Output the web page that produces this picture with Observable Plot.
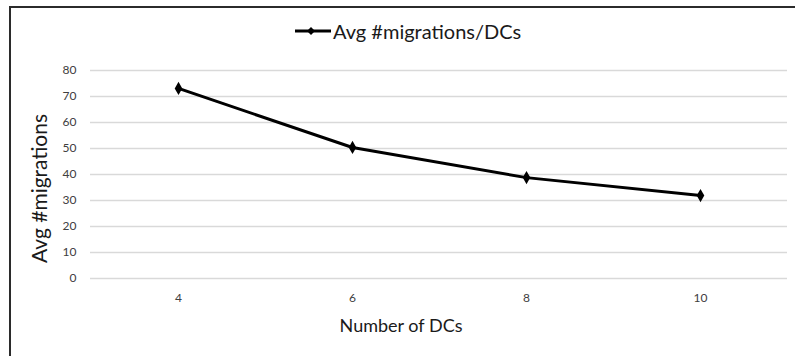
<!DOCTYPE html>
<html>
<head>
<meta charset="utf-8">
<script src="https://cdn.jsdelivr.net/npm/d3@7"></script>
<script src="https://cdn.jsdelivr.net/npm/@observablehq/plot@0.6"></script>
<style>
  html, body { margin: 0; padding: 0; background: #fff; }
  #wrap { position: relative; width: 795px; height: 356px; overflow: hidden; }
  #border { position: absolute; left: 9px; top: 6px; width: 900px; height: 500px; border-left: 2px solid #2b2b2b; border-top: 2px solid #2b2b2b; }
  #legend { position: absolute; left: 295px; top: 19px; font-family: Lato, sans-serif; font-size: 20px; color: #1a1a1a; display: flex; align-items: center; }
  #legend svg { margin-right: 2px; }
  #chart { position: absolute; left: 0; top: 0; }
</style>
</head>
<body>
<div id="wrap">
  <div id="border"></div>
  <div id="chart"></div>
  <div id="legend"><svg width="36" height="12"><line x1="0" y1="6" x2="36" y2="6" stroke="#000" stroke-width="3"/><path d="M16,2 L20,6 L16,10 L12,6 Z" fill="#000"/></svg><span>Avg #migrations/DCs</span></div>
</div>
<script>
const categories = ["4", "6", "8", "10"];
const values = [73.1, 50.4, 38.8, 31.9];
const yTicks = [0, 10, 20, 30, 40, 50, 60, 70, 80];
const seriesName = "Avg #migrations/DCs";
const xTitle = "Number of DCs";
const yTitle = "Avg #migrations";

const data = categories.map((c, i) => ({dcs: c, v: values[i]}));

const chart = Plot.plot({
  width: 795,
  height: 356,
  marginLeft: 90,
  marginRight: 8,
  marginTop: 70,
  marginBottom: 78,
  style: {fontFamily: "Lato, sans-serif", background: "transparent"},
  x: {type: "point", domain: categories, padding: 0.5},
  y: {domain: [0, 80]},
  marks: [
    Plot.gridY(yTicks, {stroke: "#d9d9d9", strokeOpacity: 1, strokeWidth: 1.5}),
    Plot.axisY(yTicks, {tickSize: 0, tickPadding: 14, fontSize: 12, fill: "#404040", label: null}),
    Plot.axisX({tickSize: 0, tickPadding: 15, fontSize: 12, fill: "#404040", label: null}),
    Plot.line(data, {x: "dcs", y: "v", stroke: "#000", strokeWidth: 3}),
    Plot.dot(data, {x: "dcs", y: "v", symbol: "diamond", r: 4, fill: "#000", stroke: "none"}),
    Plot.text([yTitle], {frameAnchor: "left", textAnchor: "middle", lineAnchor: "middle", dx: -50, dy: 14, rotate: -90, fontSize: 21, fill: "#1a1a1a"}),
    Plot.text([xTitle], {frameAnchor: "bottom", textAnchor: "middle", lineAnchor: "middle", dx: -38, dy: 48, fontSize: 18, fill: "#1a1a1a"})
  ]
});
document.getElementById("chart").appendChild(chart);
</script>
</body>
</html>
